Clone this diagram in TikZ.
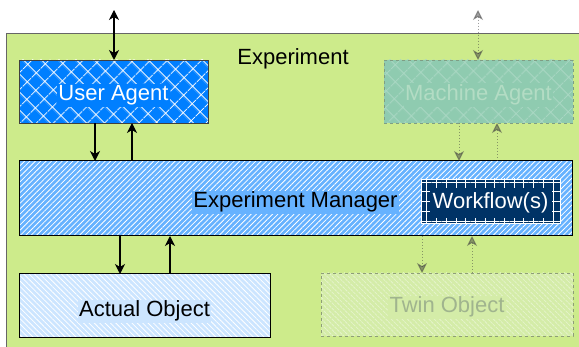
\documentclass[tikz,border=0pt]{standalone}
\usepackage{fontspec}
\setmainfont{Liberation Sans}
\usetikzlibrary{patterns.meta,arrows.meta,calc}

\definecolor{expgreen}{HTML}{CDEB8B}
\definecolor{expborder}{HTML}{666666}
\definecolor{uablue}{HTML}{007FFF}
\definecolor{emblue}{HTML}{66B2FF}
\definecolor{aoblue}{HTML}{CCE5FF}
\definecolor{wfnavy}{HTML}{003366}
\definecolor{mafill}{HTML}{8FCBB0}
\definecolor{matext}{HTML}{B3DCC4}
\definecolor{maedge}{HTML}{7F9E84}
\definecolor{tofill}{HTML}{D4ECA8}
\definecolor{totext}{HTML}{A0B48E}
\definecolor{toedge}{HTML}{8E9E78}

\tikzset{
  lbl/.style={font=\fontsize{22}{26}\selectfont, inner sep=1.5pt, anchor=base},
  panel/.style={inner sep=0pt, outer sep=0pt},
  solidarrow/.style={line width=1.3pt, -{Stealth[length=10pt,width=10pt,inset=3pt]}},
  bothsolid/.style={line width=1.3pt, {Stealth[length=10pt,width=10pt,inset=3pt]}-{Stealth[length=10pt,width=10pt,inset=3pt]}},
  faintarrow/.style={line width=1pt, dotted, draw=black!75, opacity=0.5,
    -{Stealth[length=10pt,width=10pt,inset=3pt,fill=black!75]}},
  bothfaint/.style={line width=1pt, dotted, draw=black!75, opacity=0.5,
    {Stealth[length=10pt,width=10pt,inset=3pt]}-{Stealth[length=10pt,width=10pt,inset=3pt]}},
}

\begin{document}
\begin{tikzpicture}[x=1pt,y=-1pt]
\clip (0,0) rectangle (579,347);
\fill[white] (0,0) rectangle (579,347);

% experiment frame
\node[panel, draw=expborder, line width=1pt, fill=expgreen, anchor=north west,
      minimum width=600pt, minimum height=330pt] (exp) at (6,34) {};
\node[lbl] (explabel) at (293,65) {Experiment};

% user agent
\node[panel, draw=black!75, line width=0.8pt, preaction={fill=uablue},
      pattern={Hatch[angle=45,distance=13pt,line width=0.9pt]}, pattern color=white,
      minimum width=189pt, minimum height=63pt] (ua) at (113.5,91.5) {};
\node[lbl, fill=uablue, text=white] (ualabel) at ([yshift=-9.5pt]ua.center) {User Agent};

% machine agent
\node[panel, draw=maedge, dashed, line width=0.8pt, preaction={fill=mafill},
      pattern={Hatch[angle=45,distance=13pt,line width=0.9pt]}, pattern color=mafill!75!white,
      minimum width=189pt, minimum height=63pt] (ma) at (478.5,91.5) {};
\node[lbl, fill=mafill, text=matext] (malabel) at ([yshift=-9pt]ma.center) {Machine Agent};

% experiment manager
\node[panel, draw=black, line width=1pt, preaction={fill=emblue},
      pattern={Lines[angle=45,distance=3.8pt,line width=0.8pt]}, pattern color=white,
      minimum width=553pt, minimum height=75pt] (em) at (295.5,198.5) {};
\node[lbl, fill=emblue] (emlabel) at ([yshift=-9.5pt]em.center) {Experiment Manager};

% workflow box inside the manager
\node[panel, draw=white, line width=0.7pt, preaction={fill=wfnavy},
      pattern={Hatch[angle=0,distance=9.7pt,line width=0.7pt]}, pattern color=white,
      minimum width=139pt, minimum height=44pt] (wf) at (490.5,201) {};
\node[lbl, fill=wfnavy, text=white, anchor=center, minimum width=122pt, minimum height=30pt]
      (wflabel) at ([yshift=-2pt]wf.center) {Workflow(s)};

% actual object
\node[panel, draw=black, line width=1pt, preaction={fill=aoblue},
      pattern={Lines[angle=-45,distance=3.8pt,line width=0.8pt]}, pattern color=white,
      minimum width=251pt, minimum height=64pt] (ao) at (144.5,306) {};
\node[lbl, fill=aoblue] (aolabel) at ([yshift=-11pt]ao.center) {Actual Object};

% twin object
\node[panel, draw=toedge, dashed, line width=0.8pt, preaction={fill=tofill},
      pattern={Lines[angle=-45,distance=3.8pt,line width=0.8pt]}, pattern color=tofill!60!white,
      minimum width=252pt, minimum height=63pt] (to) at (447,304.5) {};
\node[lbl, fill=tofill, text=totext] (tolabel) at ([yshift=-8.5pt]to.center) {Twin Object};

% outside end points
\coordinate (uaout) at (114,10);
\coordinate (maout) at (478,10);

% user agent links
\draw[bothsolid] (uaout) -- (uaout |- ua.north);
\draw[solidarrow] ([xshift=-18.5pt]ua.south) -- ([xshift=-18.5pt]ua.south |- em.north);
\draw[solidarrow] ([xshift=18.5pt]ua.south |- em.north) -- ([xshift=18.5pt]ua.south);

% manager to actual object
\draw[solidarrow] ([xshift=-24.5pt]ao.north |- em.south) -- ([xshift=-24.5pt]ao.north);
\draw[solidarrow] ([xshift=25.5pt]ao.north) -- ([xshift=25.5pt]ao.north |- em.south);

% machine agent links
\draw[bothfaint] (maout) -- (maout |- ma.north);
\draw[faintarrow] ([xshift=-19.5pt]ma.south) -- ([xshift=-19.5pt]ma.south |- em.north);
\draw[faintarrow] ([xshift=18.5pt]ma.south |- em.north) -- ([xshift=18.5pt]ma.south);

% manager to twin object
\draw[faintarrow] ([xshift=-25pt]to.north |- em.south) -- ([xshift=-25pt]to.north);
\draw[faintarrow] ([xshift=25pt]to.north) -- ([xshift=25pt]to.north |- em.south);
\end{tikzpicture}
\end{document}
